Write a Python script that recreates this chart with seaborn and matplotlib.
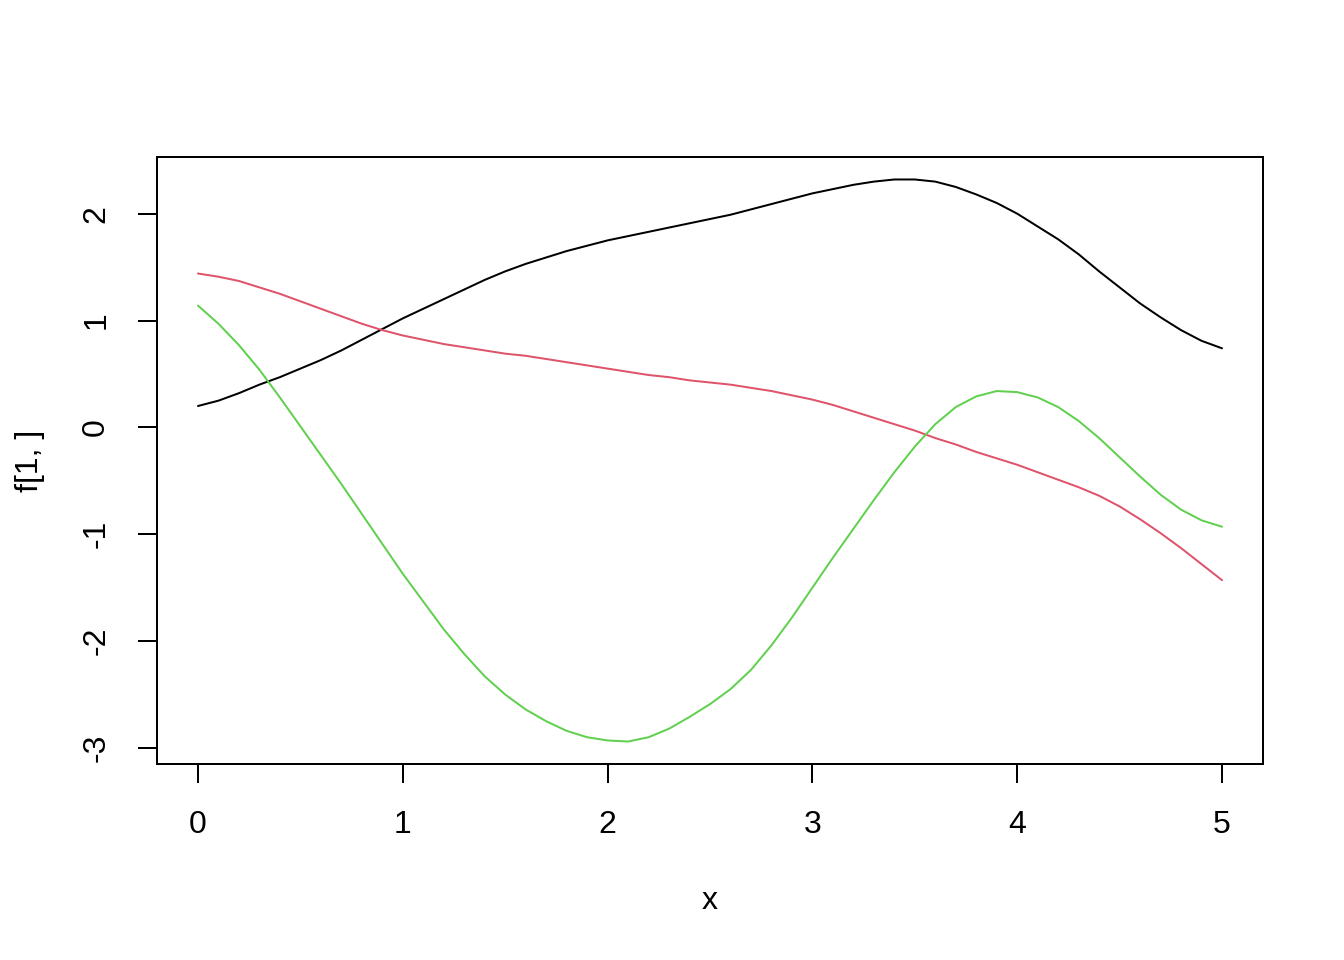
import numpy as np
import pandas as pd
import matplotlib
matplotlib.use("Agg")
import matplotlib.pyplot as plt
import seaborn as sns

# grid of x values read at 0.1 steps
x = [round(0.1 * i, 1) for i in range(51)]

f1 = [0.20, 0.25, 0.32, 0.40, 0.47, 0.55, 0.63, 0.72, 0.82, 0.92,
      1.02, 1.11, 1.20, 1.29, 1.38, 1.46, 1.53, 1.59, 1.65, 1.70,
      1.75, 1.79, 1.83, 1.87, 1.91, 1.95, 1.99, 2.04, 2.09, 2.14,
      2.19, 2.23, 2.27, 2.30, 2.32, 2.32, 2.30, 2.25, 2.18, 2.10,
      2.00, 1.88, 1.76, 1.62, 1.46, 1.31, 1.16, 1.03, 0.91, 0.81,
      0.74]

f2 = [1.44, 1.41, 1.37, 1.31, 1.25, 1.18, 1.11, 1.04, 0.97, 0.91,
      0.86, 0.82, 0.78, 0.75, 0.72, 0.69, 0.67, 0.64, 0.61, 0.58,
      0.55, 0.52, 0.49, 0.47, 0.44, 0.42, 0.40, 0.37, 0.34, 0.30,
      0.26, 0.21, 0.15, 0.09, 0.03, -0.03, -0.10, -0.16, -0.23, -0.29,
      -0.35, -0.42, -0.49, -0.56, -0.64, -0.74, -0.86, -0.99, -1.13, -1.28,
      -1.43]

f3 = [1.14, 0.97, 0.77, 0.54, 0.28, 0.01, -0.26, -0.53, -0.81, -1.09,
      -1.37, -1.63, -1.89, -2.12, -2.33, -2.50, -2.64, -2.75, -2.84, -2.90,
      -2.93, -2.94, -2.90, -2.82, -2.71, -2.59, -2.45, -2.27, -2.04, -1.78,
      -1.50, -1.22, -0.95, -0.68, -0.42, -0.18, 0.03, 0.19, 0.29, 0.34,
      0.33, 0.28, 0.19, 0.06, -0.10, -0.28, -0.46, -0.63, -0.77, -0.87,
      -0.93]

colours = ["black", "#DF536B", "#61D04F"]

sns.set_theme(style="ticks")
plt.rcParams["font.family"] = ["Liberation Sans", "DejaVu Sans"]
plt.rcParams["font.size"] = 12
plt.rcParams["text.color"] = "black"
plt.rcParams["axes.labelcolor"] = "black"

fig = plt.figure(figsize=(7, 5), dpi=192)
ax = fig.add_axes([157 / 1344, 1 - 764 / 960, (1263 - 157) / 1344, (764 - 157) / 960])

for series, col in zip([f1, f2, f3], colours):
    sns.lineplot(x=x, y=series, color=col, linewidth=0.75, ax=ax)

# R style 4% axis extension
allv = np.array(f1 + f2 + f3)
lo, hi = allv.min(), allv.max()
pad = 0.04 * (hi - lo)
ax.set_xlim(-0.2, 5.2)
ax.set_ylim(lo - pad, hi + pad)

ax.set_xticks([0, 1, 2, 3, 4, 5])
ax.set_yticks([-3, -2, -1, 0, 1, 2])
ax.set_yticklabels(["-3", "-2", "-1", "0", "1", "2"], rotation=90, va="center")
ax.tick_params(axis="both", length=7.2, width=0.75, pad=10, labelsize=12, color="black", labelcolor="black")

for sp in ax.spines.values():
    sp.set_linewidth(0.75)
    sp.set_color("black")

ax.set_xlabel("x", fontsize=12, color="black")
ax.set_ylabel("f[1, ]", fontsize=12, color="black")
ax.xaxis.set_label_coords(0.5, (764 - 901) / 607)
ax.xaxis.label.set_va("center")
ax.yaxis.set_label_coords((30 - 157) / 1106, 0.5)
ax.yaxis.label.set_va("center")

fig.savefig("out.png", dpi=192, facecolor="white")
